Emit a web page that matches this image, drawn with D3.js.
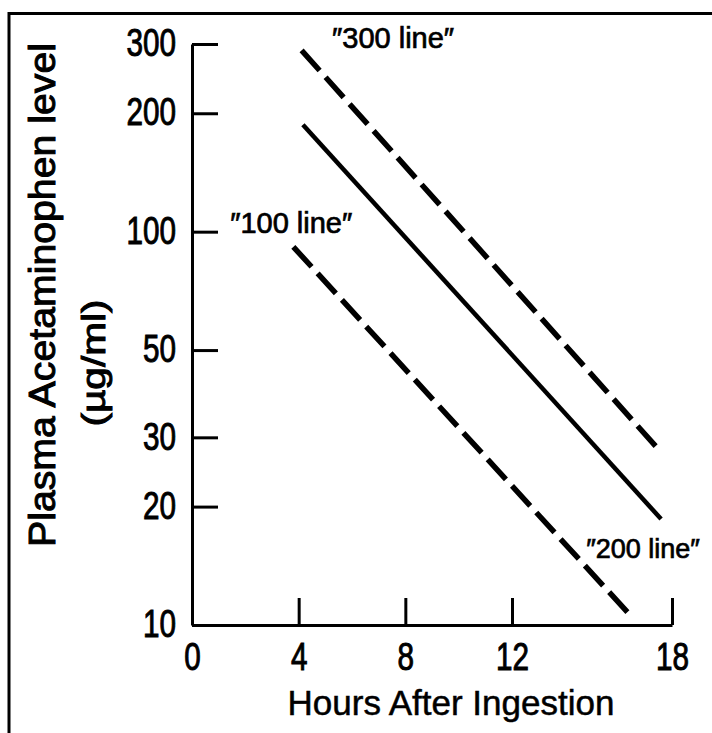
<!DOCTYPE html>
<html>
<head>
<meta charset="utf-8">
<script src="https://cdn.jsdelivr.net/npm/d3@7"></script>
<style>
  body { margin: 0; background: #fff; }
  svg text { fill: #000; }
</style>
</head>
<body>
<div id="container"></div>
<script>
/* CONSTANTS AND GLOBALS */
const width = 712,
  height = 733;

// tick values
const hourTicks = [0, 4, 8, 12, 18];
const levelTicks = [10, 20, 30, 50, 100, 200, 300];

// nomogram lines (hours, µg/ml)
const line300 = [{ h: 4.11, v: 289 }, { h: 17.61, v: 27.4 }];
const line200 = [{ h: 4.16, v: 187 }, { h: 17.59, v: 18.6 }];
const line100 = [{ h: 3.80, v: 91.5 }, { h: 16.54, v: 10.4 }];

// line labels and where they sit (hours, µg/ml)
const labelText = ["\u2033300 line\u2033", "\u2033200 line\u2033", "\u2033100 line\u2033"];
const labelAt = [{ h: 5.25, v: 293 }, { h: 14.78, v: 14.8 }, { h: 1.43, v: 99.2 }];

const textFont = "'Liberation Sans', Arial, Helvetica, sans-serif";

const svg = d3.select("#container")
  .append("svg")
  .attr("width", width)
  .attr("height", height);

// frame (cropped at right and bottom)
svg.append("rect")
  .attr("x", 9)
  .attr("y", 13.5)
  .attr("width", 760)
  .attr("height", 760)
  .attr("fill", "none")
  .attr("stroke", "#000")
  .attr("stroke-width", 3);

const xScale = d3.scaleLinear()
  .domain([0, 18])
  .range([192, 672]);

const yScale = d3.scaleLog()
  .domain([10, 300])
  .range([625, 44]);

const xAxis = d3.axisBottom(xScale)
  .tickValues(hourTicks)
  .tickFormat(d3.format("d"))
  .tickSizeInner(-27)
  .tickSizeOuter(0)
  .tickPadding(17);

const yAxis = d3.axisLeft(yScale)
  .tickValues(levelTicks)
  .tickFormat(d3.format("d"))
  .tickSizeInner(-26)
  .tickSizeOuter(0)
  .tickPadding(16);

const xAxisGroup = svg.append("g")
  .attr("transform", `translate(0, ${yScale(10)})`)
  .call(xAxis);

const yAxisGroup = svg.append("g")
  .attr("transform", `translate(${xScale(0)}, 0)`)
  .call(yAxis);

// condensed, heavy tick numbers like the printed original
[xAxisGroup, yAxisGroup].forEach(g => {
  g.select(".domain").attr("stroke", "#000").attr("stroke-width", 3);
  g.selectAll(".tick line").attr("stroke", "#000").attr("stroke-width", 3);
  g.selectAll(".tick text")
    .attr("fill", "#000")
    .attr("stroke", "#000")
    .attr("stroke-width", 1)
    .attr("textLength", d => String(d).length * 16.5)
    .attr("lengthAdjust", "spacingAndGlyphs")
    .style("font-family", textFont)
    .style("font-size", "39px");
});
yAxisGroup.selectAll(".tick text").attr("dy", "0.3em");

// the lines
const line = d3.line()
  .x(d => xScale(d.h))
  .y(d => yScale(d.v));

svg.append("path")
  .datum(line300)
  .attr("d", line)
  .attr("fill", "none")
  .attr("stroke", "#000")
  .attr("stroke-width", 5.5)
  .attr("stroke-dasharray", "27 9");

svg.append("path")
  .datum(line200)
  .attr("d", line)
  .attr("fill", "none")
  .attr("stroke", "#000")
  .attr("stroke-width", 4.5);

svg.append("path")
  .datum(line100)
  .attr("d", line)
  .attr("fill", "none")
  .attr("stroke", "#000")
  .attr("stroke-width", 5.5)
  .attr("stroke-dasharray", "27 9");

// line labels
svg.selectAll("text.lineLabel")
  .data(labelText)
  .join("text")
  .attr("class", "lineLabel")
  .attr("x", (d, i) => xScale(labelAt[i].h))
  .attr("y", (d, i) => yScale(labelAt[i].v))
  .attr("stroke", "#000")
  .attr("stroke-width", 0.7)
  .style("font-family", textFont)
  .style("font-size", (d, i) => i === 1 ? "27px" : "29px")
  .text(d => d);

// axis titles
svg.append("text")
  .attr("x", 451)
  .attr("y", 715)
  .attr("text-anchor", "middle")
  .attr("stroke", "#000")
  .attr("stroke-width", 0.5)
  .style("font-family", textFont)
  .style("font-size", "35px")
  .text("Hours After Ingestion");

svg.append("text")
  .attr("transform", "translate(55, 295) rotate(-90)")
  .attr("text-anchor", "middle")
  .attr("textLength", 504)
  .attr("lengthAdjust", "spacingAndGlyphs")
  .attr("stroke", "#000")
  .attr("stroke-width", 1)
  .style("font-family", textFont)
  .style("font-size", "37px")
  .text("Plasma Acetaminophen level");

svg.append("text")
  .attr("transform", "translate(105, 363) rotate(-90)")
  .attr("text-anchor", "middle")
  .attr("textLength", 127)
  .attr("lengthAdjust", "spacingAndGlyphs")
  .attr("stroke", "#000")
  .attr("stroke-width", 1)
  .style("font-family", textFont)
  .style("font-size", "34px")
  .text("(\u00b5g/ml)");
</script>
</body>
</html>
